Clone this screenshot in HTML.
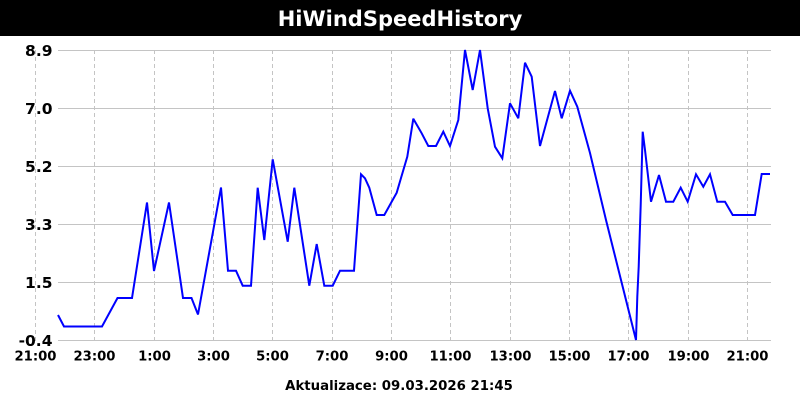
<!DOCTYPE html>
<html>
<head>
<meta charset="utf-8">
<style>
  html, body { margin: 0; padding: 0; background: #fff; }
  body { width: 800px; height: 400px; overflow: hidden; }
  svg { display: block; }
  text { font-family: "DejaVu Sans", "Liberation Sans", sans-serif; font-weight: bold; }
</style>
</head>
<body>
<svg width="800" height="400" viewBox="0 0 800 400" xmlns="http://www.w3.org/2000/svg">
  <rect x="0" y="0" width="800" height="400" fill="#ffffff"/>
  <rect x="0" y="0" width="800" height="36" fill="#000000"/>
  <text x="400" y="26" font-size="21" fill="#ffffff" text-anchor="middle">HiWindSpeedHistory</text>

  <!-- horizontal grid -->
  <g stroke="#c4c4c4" stroke-width="1">
    <line x1="58" y1="50.5" x2="771" y2="50.5"/>
    <line x1="58" y1="108.5" x2="771" y2="108.5"/>
    <line x1="58" y1="166.5" x2="771" y2="166.5"/>
    <line x1="58" y1="224.5" x2="771" y2="224.5"/>
    <line x1="58" y1="282.5" x2="771" y2="282.5"/>
    <line x1="58" y1="340.5" x2="771" y2="340.5"/>
  </g>
  <!-- vertical dashed grid -->
  <g stroke="#c4c4c4" stroke-width="1" stroke-dasharray="4,3">
    <line x1="35.5" y1="50" x2="35.5" y2="341"/>
    <line x1="94.5" y1="50" x2="94.5" y2="341"/>
    <line x1="154.5" y1="50" x2="154.5" y2="341"/>
    <line x1="213.5" y1="50" x2="213.5" y2="341"/>
    <line x1="272.5" y1="50" x2="272.5" y2="341"/>
    <line x1="332.5" y1="50" x2="332.5" y2="341"/>
    <line x1="391.5" y1="50" x2="391.5" y2="341"/>
    <line x1="450.5" y1="50" x2="450.5" y2="341"/>
    <line x1="510.5" y1="50" x2="510.5" y2="341"/>
    <line x1="569.5" y1="50" x2="569.5" y2="341"/>
    <line x1="628.5" y1="50" x2="628.5" y2="341"/>
    <line x1="688.5" y1="50" x2="688.5" y2="341"/>
    <line x1="747.5" y1="50" x2="747.5" y2="341"/>
  </g>

  <!-- y labels -->
  <g font-size="15.5" fill="#000" text-anchor="end">
    <text x="52.5" y="56">8.9</text>
    <text x="52.5" y="114">7.0</text>
    <text x="52.5" y="172">5.2</text>
    <text x="52.5" y="230">3.3</text>
    <text x="52.5" y="288">1.5</text>
    <text x="52.5" y="346">-0.4</text>
  </g>

  <!-- x labels -->
  <g font-size="13.2" fill="#000" text-anchor="middle">
    <text x="35.5" y="360.5">21:00</text>
    <text x="94.5" y="360.5">23:00</text>
    <text x="154.5" y="360.5">1:00</text>
    <text x="213.5" y="360.5">3:00</text>
    <text x="272.5" y="360.5">5:00</text>
    <text x="332" y="360.5">7:00</text>
    <text x="391.5" y="360.5">9:00</text>
    <text x="450.5" y="360.5">11:00</text>
    <text x="510.5" y="360.5">13:00</text>
    <text x="569.5" y="360.5">15:00</text>
    <text x="628.5" y="360.5">17:00</text>
    <text x="688.5" y="360.5">19:00</text>
    <text x="747.5" y="360.5">21:00</text>
  </g>

  <text x="399" y="390" font-size="13.3" fill="#000" text-anchor="middle">Aktualizace: 09.03.2026 21:45</text>

  <!-- data -->
  <polyline fill="none" stroke="#0000ff" stroke-width="2" stroke-linejoin="miter" stroke-miterlimit="3"
    points="58,315 64,326.5 102,326.5 117.5,298 132,298 147,202.5 154,271 169,202.5 183,298 191.5,298 198,314.5 221,187.5 228,270.7 236,270.7 242.7,285.7 251,285.7 257.7,187.7 264.3,240 272.7,159.3 287.7,241.7 294.3,187.7 309.3,285.7 316.7,244 324.3,285.7 332.7,285.7 340,270.7 354,270.7 361,174.3 365,178.3 369.3,187.7 376.7,215 384.3,215 396.7,192.7 401,178 407.3,156.7 413.3,118.7 421.7,133.3 428.3,146 436,146 443.3,131.7 450,146 458.3,120 465,50 472.7,90 480,50 487.7,108.3 495,146.7 502.3,158.3 510,103.3 518.3,118.3 525,62.7 531.7,76.7 540,146 555,91 561.7,118.3 570,90.7 577.3,106.7 590,153 606,220 636,340 637.3,296.7 638.7,266.7 640.7,205 642.7,131.7 645,150 651,201.7 659,175 666,201.7 673.3,201.7 680.7,187.7 687.7,201.7 696,174.3 703.3,186.7 710,174.3 717.3,201.7 725,201.7 732.7,215 755,215 761.7,174 770,174"/>
</svg>
</body>
</html>
